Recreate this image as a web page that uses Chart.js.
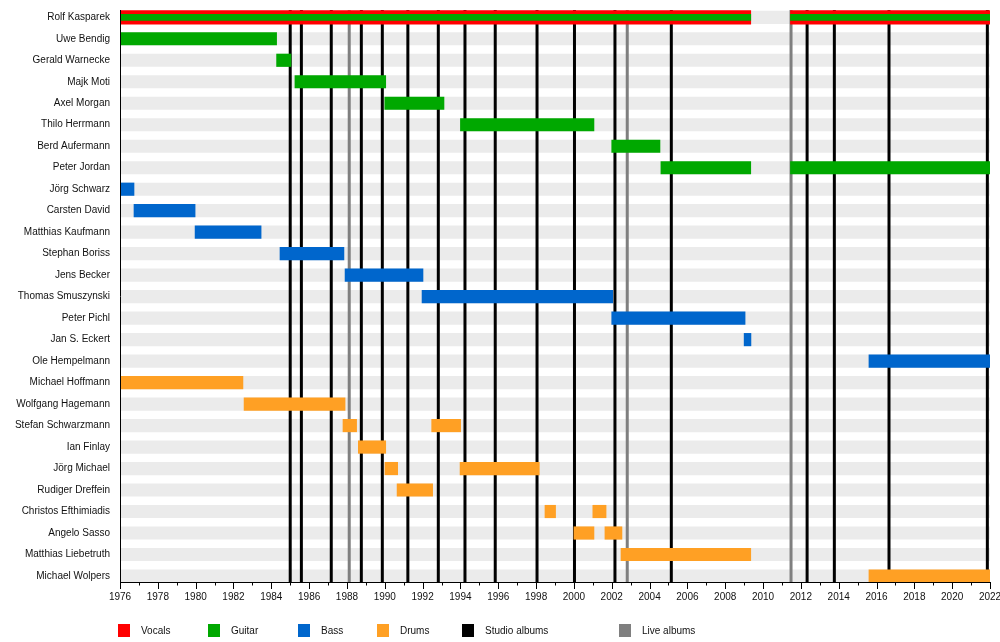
<!DOCTYPE html>
<html><head><meta charset="utf-8">
<script src="https://cdn.jsdelivr.net/npm/chart.js@4/dist/chart.umd.min.js"></script>
<style>html,body{margin:0;padding:0;background:#fff}#wrap{width:1000px;height:642px}</style>
</head><body><div id="wrap"><canvas id="c" width="1000" height="642"></canvas></div>
<script>
const members = ["Rolf Kasparek","Uwe Bendig","Gerald Warnecke","Majk Moti","Axel Morgan","Thilo Herrmann","Berd Aufermann","Peter Jordan","Jörg Schwarz","Carsten David","Matthias Kaufmann","Stephan Boriss","Jens Becker","Thomas Smuszynski","Peter Pichl","Jan S. Eckert","Ole Hempelmann","Michael Hoffmann","Wolfgang Hagemann","Stefan Schwarzmann","Ian Finlay","Jörg Michael","Rudiger Dreffein","Christos Efthimiadis","Angelo Sasso","Matthias Liebetruth","Michael Wolpers"];

const vocals = [
  ["Rolf Kasparek", 1976, 2009.35], ["Rolf Kasparek", 2011.45, 2022]
];
const guitar = [
  ["Rolf Kasparek", 1976, 2009.35], ["Rolf Kasparek", 2011.45, 2022],
  ["Uwe Bendig", 1976, 1984.28],
  ["Gerald Warnecke", 1984.28, 1985.04],
  ["Majk Moti", 1985.25, 1990.05],
  ["Axel Morgan", 1990.0, 1993.13],
  ["Thilo Herrmann", 1994.0, 2001.06],
  ["Berd Aufermann", 2002.0, 2004.55],
  ["Peter Jordan", 2004.6, 2009.35], ["Peter Jordan", 2011.45, 2022]
];
const bass = [
  ["Jörg Schwarz", 1976, 1976.74],
  ["Carsten David", 1976.74, 1979.97],
  ["Matthias Kaufmann", 1979.97, 1983.46],
  ["Stephan Boriss", 1984.46, 1987.84],
  ["Jens Becker", 1987.9, 1992.02],
  ["Thomas Smuszynski", 1991.97, 2002.05],
  ["Peter Pichl", 2002.0, 2009.05],
  ["Jan S. Eckert", 2009.0, 2009.36],
  ["Ole Hempelmann", 2015.6, 2022]
];
const drums = [
  ["Michael Hoffmann", 1976, 1982.5],
  ["Wolfgang Hagemann", 1982.56, 1987.9],
  ["Stefan Schwarzmann", 1987.79, 1988.51], ["Stefan Schwarzmann", 1992.48, 1994.01],
  ["Ian Finlay", 1988.6, 1990.05],
  ["Jörg Michael", 1990.01, 1990.68], ["Jörg Michael", 1993.98, 1998.17],
  ["Rudiger Dreffein", 1990.65, 1992.53],
  ["Christos Efthimiadis", 1998.47, 1999.03], ["Christos Efthimiadis", 2001.0, 2001.7],
  ["Angelo Sasso", 2000.0, 2001.06], ["Angelo Sasso", 2001.64, 2002.54],
  ["Matthias Liebetruth", 2002.49, 2009.35],
  ["Michael Wolpers", 2015.6, 2022]
];
const studioAlbums = [1985.0, 1985.59, 1987.17, 1988.76, 1989.87, 1991.22, 1992.83, 1994.24, 1995.84, 1998.05, 2000.03, 2002.17, 2005.15, 2012.33, 2013.77, 2016.66, 2021.86];
const liveAlbums = [1988.12, 2002.82, 2011.48];
const yearMin = 1976, yearMax = 2022, yearStep = 2;

const COLORS = { vocals: '#ff0000', guitar: '#00a800', bass: '#0066cc', drums: '#ffa024', studio: '#000000', live: '#7f7f7f', row: '#ebebeb' };
const FONT = "'Liberation Sans', Arial, sans-serif";

const toBars = arr => arr.map(([m, a, b]) => ({ y: m, x: [a, b] }));
const vocalists = new Set(vocals.map(v => v[0]));

const common = { borderWidth: 0, borderSkipped: false, grouped: false };
const datasets = [
  Object.assign({ label: 'rows', data: members.map(m => ({ y: m, x: [yearMin, yearMax] })), backgroundColor: COLORS.row, barThickness: 12.5, order: 10 }, common),
  Object.assign({ label: 'Vocals', data: toBars(vocals), backgroundColor: COLORS.vocals, barThickness: 13.5, order: 3 }, common),
  Object.assign({ label: 'Guitar (lead)', data: toBars(guitar.filter(g => vocalists.has(g[0]))), backgroundColor: COLORS.guitar, barThickness: 6, order: 1 }, common),
  Object.assign({ label: 'Guitar', data: toBars(guitar.filter(g => !vocalists.has(g[0]))), backgroundColor: COLORS.guitar, barThickness: 12.5, order: 3 }, common),
  Object.assign({ label: 'Bass', data: toBars(bass), backgroundColor: COLORS.bass, barThickness: 12.5, order: 3 }, common),
  Object.assign({ label: 'Drums', data: toBars(drums), backgroundColor: COLORS.drums, barThickness: 12.5, order: 3 }, common)
];

const albumLines = {
  id: 'albumLines',
  afterDatasetDraw(chart, args) {
    if (chart.data.datasets[args.index].label !== 'rows') return;
    const { ctx, chartArea, scales: { x } } = chart;
    ctx.save();
    ctx.lineWidth = 3;
    const draw = (arr, color) => {
      ctx.strokeStyle = color;
      arr.forEach(v => {
        const px = x.getPixelForValue(v);
        ctx.beginPath(); ctx.moveTo(px, chartArea.top); ctx.lineTo(px, chartArea.bottom); ctx.stroke();
      });
    };
    draw(liveAlbums, COLORS.live);
    draw(studioAlbums, COLORS.studio);
    ctx.restore();
  }
};

const tickMarks = {
  id: 'tickMarks',
  afterDraw(chart) {
    const { ctx, chartArea, scales: { x } } = chart;
    ctx.save();
    ctx.strokeStyle = '#000'; ctx.lineWidth = 1;
    for (let y = yearMin; y <= yearMax; y++) {
      const px = Math.round(x.getPixelForValue(y)) + 0.5;
      const len = ((y - yearMin) % yearStep === 0) ? 7 : 3.5;
      ctx.beginPath(); ctx.moveTo(px, chartArea.bottom); ctx.lineTo(px, chartArea.bottom + len); ctx.stroke();
    }
    ctx.restore();
  }
};

const legendItems = [
  { text: 'Vocals', color: COLORS.vocals, x: 118 },
  { text: 'Guitar', color: COLORS.guitar, x: 208 },
  { text: 'Bass', color: COLORS.bass, x: 298 },
  { text: 'Drums', color: COLORS.drums, x: 377 },
  { text: 'Studio albums', color: COLORS.studio, x: 462 },
  { text: 'Live albums', color: COLORS.live, x: 619 }
];
const customLegend = {
  id: 'customLegend',
  afterDraw(chart) {
    const { ctx } = chart;
    ctx.save();
    ctx.font = '10px ' + FONT;
    ctx.textBaseline = 'middle';
    ctx.textAlign = 'left';
    legendItems.forEach(it => {
      ctx.fillStyle = it.color;
      ctx.fillRect(it.x, 624, 12, 13);
      ctx.fillStyle = '#111';
      ctx.fillText(it.text, it.x + 23, 631.5);
    });
    ctx.restore();
  }
};

new Chart(document.getElementById('c'), {
  type: 'bar',
  data: { labels: members, datasets },
  options: {
    indexAxis: 'y',
    responsive: false,
    devicePixelRatio: 1,
    animation: false,
    layout: { padding: { top: 10, right: 10, bottom: 0, left: 0 } },
    plugins: { legend: { display: false }, tooltip: { enabled: false } },
    scales: {
      x: {
        type: 'linear', position: 'bottom', min: yearMin, max: yearMax,
        grid: { display: false, drawTicks: false },
        border: { display: true, color: '#000', width: 1, z: 1 },
        ticks: { stepSize: yearStep, autoSkip: false, maxRotation: 0, padding: 9, color: '#111', font: { family: FONT, size: 10 }, callback: v => String(v) },
        afterFit: s => { s.height = 60; s.paddingLeft = 0; s.paddingRight = 0; }
      },
      y: {
        type: 'category', position: 'left', offset: true,
        grid: { display: false, drawTicks: false },
        border: { display: true, color: '#000', width: 1, z: 1 },
        ticks: { autoSkip: false, padding: 10, color: '#111', font: { family: FONT, size: 10 } },
        afterFit: s => { s.width = 120; s.paddingTop = 0; s.paddingBottom = 0; },
        afterBuildTicks: s => { s._startValue = -0.34; s._valueRange = 26.62; }
      }
    }
  },
  plugins: [albumLines, tickMarks, customLegend]
});
</script>
</body></html>
